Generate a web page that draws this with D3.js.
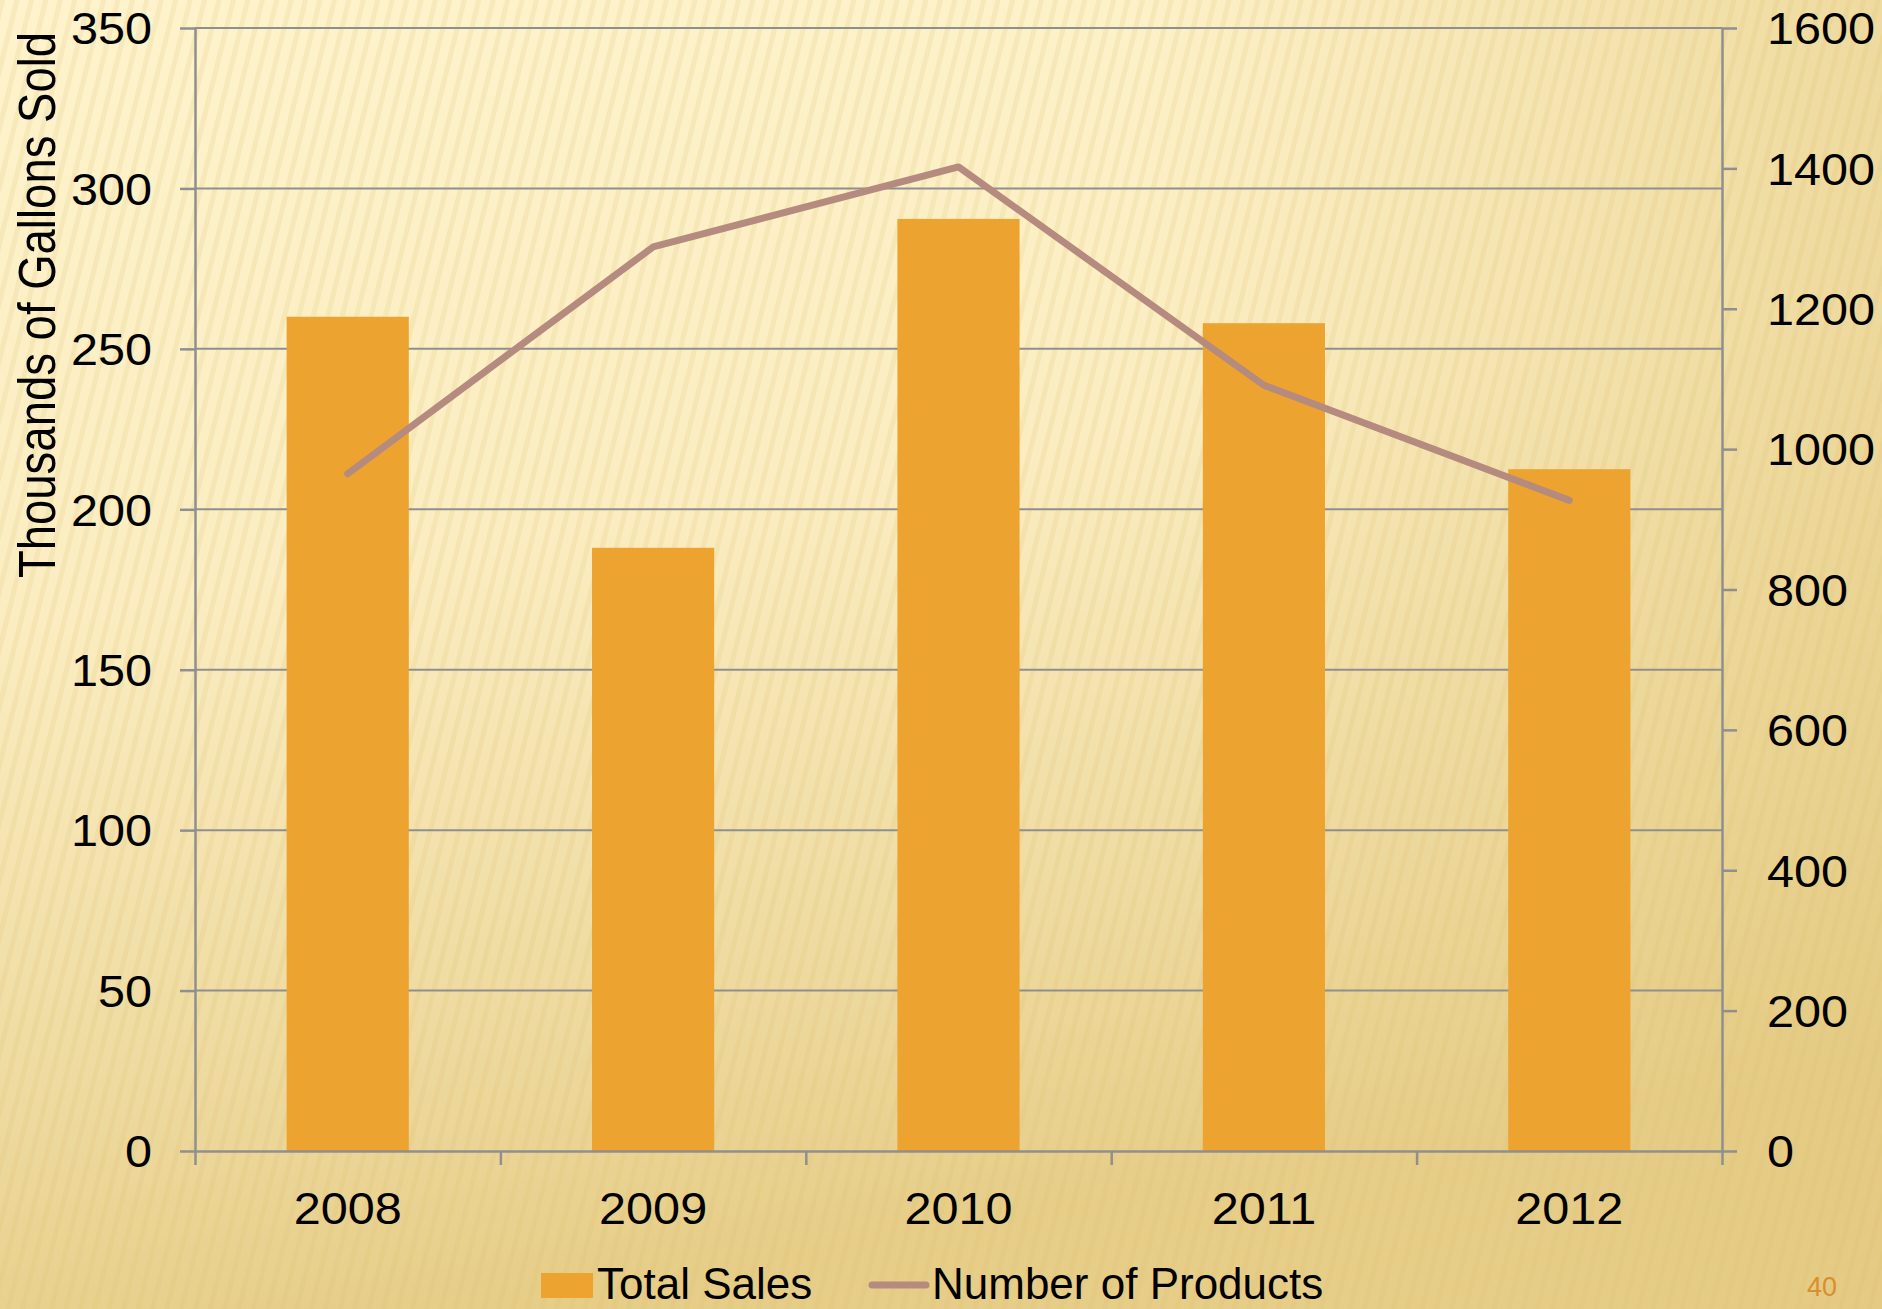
<!DOCTYPE html>
<html>
<head>
<meta charset="utf-8">
<script src="https://cdn.jsdelivr.net/npm/d3@7"></script>
<style>
  html, body { margin: 0; padding: 0; background: #f3e2a8; }
  svg { display: block; }
  text { font-family: "Liberation Sans", Arial, sans-serif; fill: #000; }
</style>
</head>
<body>
<svg id="chart" width="1882" height="1309"></svg>
<script>
// ---- data ----
const years = ["2008", "2009", "2010", "2011", "2012"];
const totalSales = [260, 188, 290.5, 258, 212.5];          // thousands of gallons
const numProducts = [965, 1288, 1402, 1091, 927];
const leftTicks = [0, 50, 100, 150, 200, 250, 300, 350];
const rightTicks = [0, 200, 400, 600, 800, 1000, 1200, 1400, 1600];
const yTitle = "Thousands of Gallons Sold";
const legendLabels = ["Total Sales", "Number of Products"];
const pageNumber = "40";

const W = 1882, H = 1309;
const plot = { left: 195, right: 1722, top: 28, bottom: 1151 };
const barColor = "#EDA32F", lineColor = "#B48B7E", gridColor = "#8F8F8F";

const svg = d3.select("#chart");
const defs = svg.append("defs");

// background
const bg = defs.append("linearGradient").attr("id", "bg").attr("x1", 0).attr("y1", 0).attr("x2", 0.25).attr("y2", 1);
bg.append("stop").attr("offset", "0").attr("stop-color", "#FEF3CC");
bg.append("stop").attr("offset", "0.45").attr("stop-color", "#FBEDC1");
bg.append("stop").attr("offset", "0.8").attr("stop-color", "#EEDA9F");
bg.append("stop").attr("offset", "1").attr("stop-color", "#E6CD88");
const bg2 = defs.append("linearGradient").attr("id", "bg2").attr("x1", 0).attr("y1", 0).attr("x2", 1).attr("y2", 0);
bg2.append("stop").attr("offset", "0").attr("stop-color", "#E8D08C").attr("stop-opacity", 0);
bg2.append("stop").attr("offset", "0.6").attr("stop-color", "#E8D08C").attr("stop-opacity", 0);
bg2.append("stop").attr("offset", "1").attr("stop-color", "#E3C97F").attr("stop-opacity", 0.55);
const pat = defs.append("pattern").attr("id", "stripes").attr("patternUnits", "userSpaceOnUse")
  .attr("width", 14).attr("height", 14).attr("patternTransform", "rotate(14)");
pat.append("rect").attr("width", 5).attr("height", 14).attr("fill", "#D9BC6A").attr("opacity", 0.16);

svg.append("rect").attr("width", W).attr("height", H).attr("fill", "url(#bg)");
svg.append("rect").attr("width", W).attr("height", H).attr("fill", "url(#bg2)");
svg.append("rect").attr("width", W).attr("height", H).attr("fill", "url(#stripes)");

// scales
const x = d3.scaleBand().domain(years).range([plot.left, plot.right]).paddingInner(0.6).paddingOuter(0.3);
const xTicks = d3.scalePoint().domain(d3.range(years.length + 1)).range([plot.left, plot.right]);
const yL = d3.scaleLinear().domain([0, 350]).range([plot.bottom, plot.top]);
const yR = d3.scaleLinear().domain([0, 1600]).range([plot.bottom, plot.top]);

// gridlines
svg.append("g").selectAll("line").data(leftTicks.filter(d => d > 0)).join("line")
  .attr("x1", plot.left).attr("x2", plot.right)
  .attr("y1", d => yL(d)).attr("y2", d => yL(d))
  .attr("stroke", gridColor).attr("stroke-width", 2);

// bars
svg.append("g").selectAll("rect").data(years).join("rect")
  .attr("x", d => x(d)).attr("width", x.bandwidth())
  .attr("y", (d, i) => yL(totalSales[i]))
  .attr("height", (d, i) => yL(0) - yL(totalSales[i]))
  .attr("fill", barColor);

// line
const line = d3.line().x((d, i) => x(years[i]) + x.bandwidth() / 2).y(d => yR(d));
svg.append("path").datum(numProducts).attr("d", line)
  .attr("fill", "none").attr("stroke", lineColor).attr("stroke-width", 7)
  .attr("stroke-linecap", "round").attr("stroke-linejoin", "round");

function styleAxis(g) {
  g.select(".domain").attr("stroke", gridColor).attr("stroke-width", 2.5);
  g.selectAll(".tick line").attr("stroke", gridColor).attr("stroke-width", 2.5);
  g.selectAll("text").attr("font-size", 45).attr("fill", "#000")
    .attr("font-family", '"Liberation Sans", Arial, sans-serif');
}
function stretch(sel, k) {
  sel.each(function () {
    const len = this.getComputedTextLength();
    d3.select(this).attr("textLength", len * k).attr("lengthAdjust", "spacingAndGlyphs");
  });
}

// left axis
const gL = svg.append("g").attr("transform", `translate(${plot.left},0)`)
  .call(d3.axisLeft(yL).tickValues(leftTicks).tickFormat(d3.format("d")).tickSize(15).tickPadding(28).tickSizeOuter(0));
styleAxis(gL);
gL.selectAll("text").attr("dy", "0.35em");
stretch(gL.selectAll("text"), 1.08);

// right axis
const gR = svg.append("g").attr("transform", `translate(${plot.right},0)`)
  .call(d3.axisRight(yR).tickValues(rightTicks).tickFormat(d3.format("d")).tickSize(15).tickPadding(30).tickSizeOuter(0));
styleAxis(gR);
gR.selectAll("text").attr("dy", "0.35em");
stretch(gR.selectAll("text"), 1.08);

// bottom axis (ticks at category boundaries)
const gB = svg.append("g").attr("transform", `translate(0,${plot.bottom})`)
  .call(d3.axisBottom(xTicks).tickSize(14).tickFormat("").tickSizeOuter(0));
styleAxis(gB);
const gBL = svg.append("g").attr("transform", `translate(0,${plot.bottom})`)
  .call(d3.axisBottom(x).tickSize(0).tickPadding(0));
gBL.select(".domain").remove();
gBL.selectAll("text").attr("font-size", 45).attr("fill", "#000").attr("dy", null).attr("y", 73)
  .attr("font-family", '"Liberation Sans", Arial, sans-serif');
stretch(gBL.selectAll("text"), 1.08);

// y-axis title
svg.append("text")
  .attr("transform", "translate(55,305) scale(1.12,1) rotate(-90)")
  .attr("text-anchor", "middle").attr("font-size", 45.5)
  .text(yTitle);

// legend
const lg = svg.append("g");
lg.append("rect").attr("x", 541).attr("y", 1273).attr("width", 52).attr("height", 25).attr("fill", barColor);
lg.append("text").attr("x", 597).attr("y", 1299).attr("font-size", 44).text(legendLabels[0]);
lg.append("line").attr("x1", 872).attr("x2", 926).attr("y1", 1285).attr("y2", 1285)
  .attr("stroke", lineColor).attr("stroke-width", 7).attr("stroke-linecap", "round");
lg.append("text").attr("x", 932).attr("y", 1299).attr("font-size", 44).text(legendLabels[1]);

// page number
svg.append("text").attr("x", 1822).attr("y", 1296).attr("text-anchor", "middle")
  .attr("font-size", 27).style("fill", "#D98F2C").text(pageNumber);
</script>
</body>
</html>
